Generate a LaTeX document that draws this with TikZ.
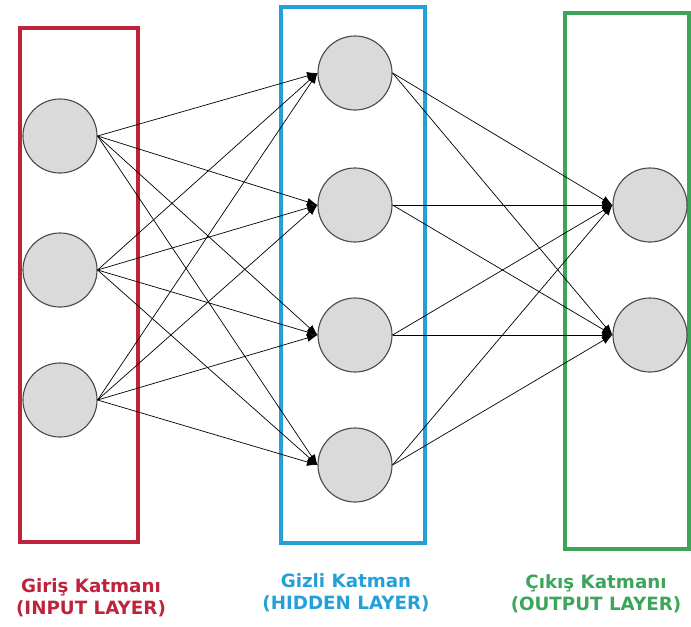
\documentclass[tikz,border=0pt]{standalone}
\usepackage{fontspec}
\setmainfont{DejaVu Sans}
\usepackage{xcolor}
\usetikzlibrary{arrows.meta}

\definecolor{inred}{RGB}{190,35,60}
\definecolor{hidblue}{RGB}{35,160,215}
\definecolor{outgreen}{RGB}{60,165,90}
\definecolor{neurgray}{RGB}{218,218,218}

\begin{document}
\begin{tikzpicture}[
  x=0.025cm, y=-0.025cm,
  neuron/.style={circle, draw=black!70, line width=0.8pt, fill=neurgray, minimum size=1.85cm, inner sep=0pt},
  layer/.style={line width=2.2pt},
  lbl/.style={font=\fontsize{13}{15.5}\selectfont\bfseries, align=center},
  arr/.style={-{Latex[length=2.6mm,width=2mm]}, line width=0.5pt}
]
  \useasboundingbox (0,0) rectangle (691,626);

  % layer frames
  \draw[layer, inred] (20,28) rectangle (138,542);
  \draw[layer, hidblue] (281,7) rectangle (425,543);
  \draw[layer, outgreen] (565,13) rectangle (689,549);

  % neurons
  \node[neuron] (i1) at (60,136) {};
  \node[neuron] (i2) at (60,270) {};
  \node[neuron] (i3) at (60,400) {};

  \node[neuron] (h1) at (355,73) {};
  \node[neuron] (h2) at (355,205) {};
  \node[neuron] (h3) at (355,335) {};
  \node[neuron] (h4) at (355,465) {};

  \node[neuron] (o1) at (650,205) {};
  \node[neuron] (o2) at (650,335) {};

  % connections
  \foreach \a in {1,2,3}
    \foreach \b in {1,2,3,4}
      \draw[arr] (i\a.east) -- (h\b.west);
  \foreach \a in {1,2,3,4}
    \foreach \b in {1,2}
      \draw[arr] (h\a.east) -- (o\b.west);

  % captions
  \node[lbl, text=inred] (inlbl) at (91,598) {Giriş Katmanı\\(INPUT LAYER)};
  \node[lbl, text=hidblue] (hidlbl) at (346,593) {Gizli Katman\\(HIDDEN LAYER)};
  \node[lbl, text=outgreen] (outlbl) at (596,594) {Çıkış Katmanı\\(OUTPUT LAYER)};
\end{tikzpicture}
\end{document}
